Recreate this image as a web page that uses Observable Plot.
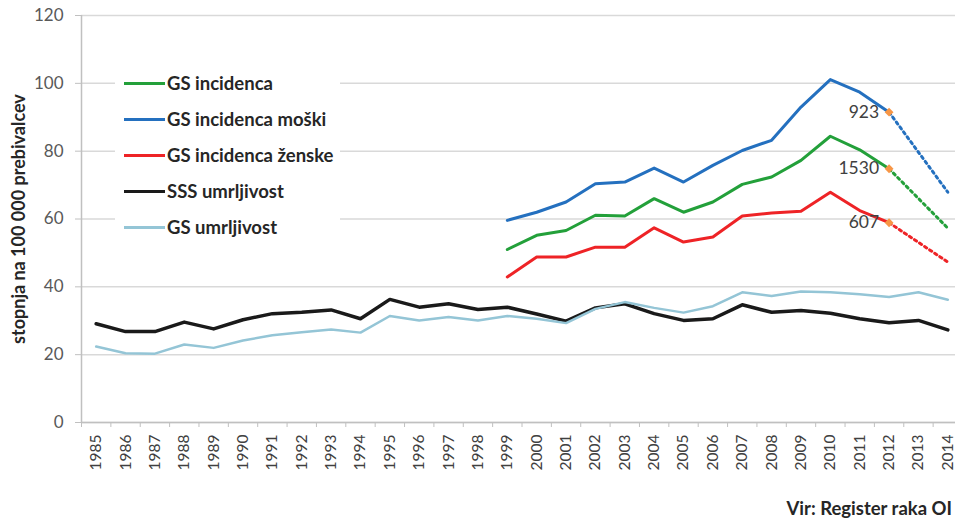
<!DOCTYPE html>
<html>
<head>
<meta charset="utf-8">
<script src="https://cdn.jsdelivr.net/npm/d3@7"></script>
<script src="https://cdn.jsdelivr.net/npm/@observablehq/plot@0.6"></script>
<style>
  html, body { margin: 0; padding: 0; background: #fff; overflow: hidden; }
  #wrap { position: relative; width: 955px; height: 520px; font-family: Lato, "Open Sans", sans-serif; }
  #legend { position: absolute; left: 115px; top: 62px; width: 225px; height: 186px; background: #fff; }
  .item { position: absolute; left: 9px; height: 20px; display: flex; align-items: center;
          font-weight: 700; font-size: 18.5px; color: #262626; white-space: nowrap; }
  .sw { width: 41px; height: 3px; margin-right: 2px; }
  #ytitle { position: absolute; left: 18px; top: 219px; transform: translate(-50%, -50%) rotate(-90deg);
            white-space: nowrap; font-weight: 700; font-size: 18px; color: #262626; }
  #caption { position: absolute; right: 3px; top: 497px; line-height: 22px;
             font-weight: 700; font-size: 18.5px; color: #262626; }
</style>
</head>
<body>
<div id="wrap">
  <div id="chart"></div>
  <div id="legend"></div>
  <div id="ytitle">stopnja na 100 000 prebivalcev</div>
  <div id="caption">Vir: Register raka OI</div>
</div>
<script>
// Years on the horizontal axis
const years = [1985, 1986, 1987, 1988, 1989, 1990, 1991, 1992, 1993, 1994,
               1995, 1996, 1997, 1998, 1999, 2000, 2001, 2002, 2003, 2004,
               2005, 2006, 2007, 2008, 2009, 2010, 2011, 2012, 2013, 2014];

// Mortality rates per 100 000 inhabitants, 1985–2014
const sssMortality = [29.1, 26.8, 26.8, 29.6, 27.6, 30.3, 32.1, 32.5, 33.2, 30.6,
                      36.3, 34.0, 35.0, 33.3, 34.0, 32.0, 29.9, 33.8, 35.0, 32.1,
                      30.1, 30.6, 34.7, 32.5, 33.0, 32.2, 30.6, 29.4, 30.1, 27.3];
const gsMortality  = [22.4, 20.4, 20.3, 23.0, 22.0, 24.2, 25.7, 26.6, 27.4, 26.5,
                      31.4, 30.1, 31.1, 30.1, 31.4, 30.6, 29.3, 33.5, 35.5, 33.8,
                      32.4, 34.3, 38.4, 37.3, 38.6, 38.4, 37.8, 37.0, 38.4, 36.2];

// Incidence rates, 1999–2012
const incidenceYears = [1999, 2000, 2001, 2002, 2003, 2004, 2005,
                        2006, 2007, 2008, 2009, 2010, 2011, 2012];
const gsIncidence     = [51.0, 55.2, 56.6, 61.1, 60.9, 66.0, 62.0, 65.0, 70.2, 72.4, 77.3, 84.4, 80.4, 74.8];
const gsIncidenceMale = [59.6, 62.0, 65.0, 70.4, 70.9, 75.0, 70.9, 75.8, 80.2, 83.2, 93.0, 101.1, 97.4, 91.5];
const gsIncidenceFem  = [42.9, 48.8, 48.8, 51.7, 51.7, 57.4, 53.2, 54.7, 60.9, 61.8, 62.3, 67.9, 62.5, 58.9];

// Projected incidence for the final year
const projectionYear = 2014;
const projectedIncidence     = 57.3;
const projectedIncidenceMale = 67.9;
const projectedIncidenceFem  = 47.3;

// Case counts written at the last observed year
const caseCounts = ["1530", "923", "607"];

const yTicks = [0, 20, 40, 60, 80, 100, 120];

const seriesNames = ["GS incidenca", "GS incidenca moški", "GS incidenca ženske", "SSS umrljivost", "GS umrljivost"];
const seriesColors = ["#23A03A", "#2470BF", "#EE2326", "#1A1A1A", "#94C5D6"];

// Tables built from the arrays above
const mortalityRows = years.map((year, i) => ({year, sss: sssMortality[i], gs: gsMortality[i]}));
const incidenceRows = incidenceYears.map((year, i) => ({
  year, all: gsIncidence[i], male: gsIncidenceMale[i], female: gsIncidenceFem[i]
}));
const last = incidenceRows[incidenceRows.length - 1];
const projections = [
  {key: "all", color: seriesColors[0], from: last.all, to: projectedIncidence, label: caseCounts[0]},
  {key: "male", color: seriesColors[1], from: last.male, to: projectedIncidenceMale, label: caseCounts[1]},
  {key: "female", color: seriesColors[2], from: last.female, to: projectedIncidenceFem, label: caseCounts[2]}
];
const projectionRows = projections.flatMap(p => [
  {key: p.key, color: p.color, year: last.year, value: p.from},
  {key: p.key, color: p.color, year: projectionYear, value: p.to}
]);
const markerRows = projections.map(p => ({year: last.year, value: p.from, label: p.label}));

// Band boundaries between year categories (for axis tick marks)
const boundaries = years.map(y => y - 0.5).concat([years[years.length - 1] + 0.5]);

const chart = Plot.plot({
  width: 955,
  height: 498,
  marginLeft: 81,
  marginRight: 0,
  marginTop: 15,
  marginBottom: 76,
  x: {domain: [years[0] - 0.5, years[years.length - 1] + 0.5], range: [81, 962]},
  y: {domain: [0, 120]},
  style: {fontFamily: "Lato, 'Open Sans', sans-serif", background: "#fff"},
  marks: [
    Plot.gridY(yTicks, {stroke: "#d9d9d9", strokeOpacity: 1, strokeWidth: 1.5}),
    Plot.ruleY([0], {stroke: "#c0c0c0", strokeWidth: 1.5}),
    Plot.ruleX([years[0] - 0.5], {stroke: "#c0c0c0", strokeWidth: 1.5}),
    Plot.axisY({ticks: yTicks, tickSize: 6, tickPadding: 12, label: null,
                stroke: "#c0c0c0", fill: "#595959", fontSize: 17}),
    Plot.axisX({ticks: boundaries, tickSize: 5, tickFormat: () => "", label: null, stroke: "#c0c0c0"}),
    Plot.axisX({ticks: years, tickSize: 0, tickPadding: 12, tickRotate: -90, tickFormat: d => String(d),
                label: null, fill: "#404040", fontSize: 15.5}),
    // Projected incidence (dotted)
    Plot.line(projectionRows, {x: "year", y: "value", z: "key", stroke: "color",
                               strokeWidth: 3, strokeDasharray: "2.5,3.6"}),
    // Incidence
    Plot.line(incidenceRows, {x: "year", y: "all", stroke: seriesColors[0], strokeWidth: 3}),
    Plot.line(incidenceRows, {x: "year", y: "male", stroke: seriesColors[1], strokeWidth: 3}),
    Plot.line(incidenceRows, {x: "year", y: "female", stroke: seriesColors[2], strokeWidth: 3}),
    // Mortality
    Plot.line(mortalityRows, {x: "year", y: "sss", stroke: seriesColors[3], strokeWidth: 3.5}),
    Plot.line(mortalityRows, {x: "year", y: "gs", stroke: seriesColors[4], strokeWidth: 2.5}),
    // Markers and case counts at the last observed year
    Plot.dot(markerRows, {x: "year", y: "value", symbol: "diamond2", r: 4, fill: "#F79646", stroke: null}),
    Plot.text(markerRows, {x: "year", y: "value", text: "label", textAnchor: "end", dx: -10,
                           fill: "#404040", fontSize: 17.5})
  ]
});
document.getElementById("chart").appendChild(chart);

// Legend
const legend = document.getElementById("legend");
seriesNames.forEach((name, i) => {
  const item = document.createElement("div");
  item.className = "item";
  item.style.top = (11 + i * 36) + "px";
  const sw = document.createElement("span");
  sw.className = "sw";
  sw.style.background = seriesColors[i];
  item.appendChild(sw);
  item.appendChild(document.createTextNode(name));
  legend.appendChild(item);
});
</script>
</body>
</html>
